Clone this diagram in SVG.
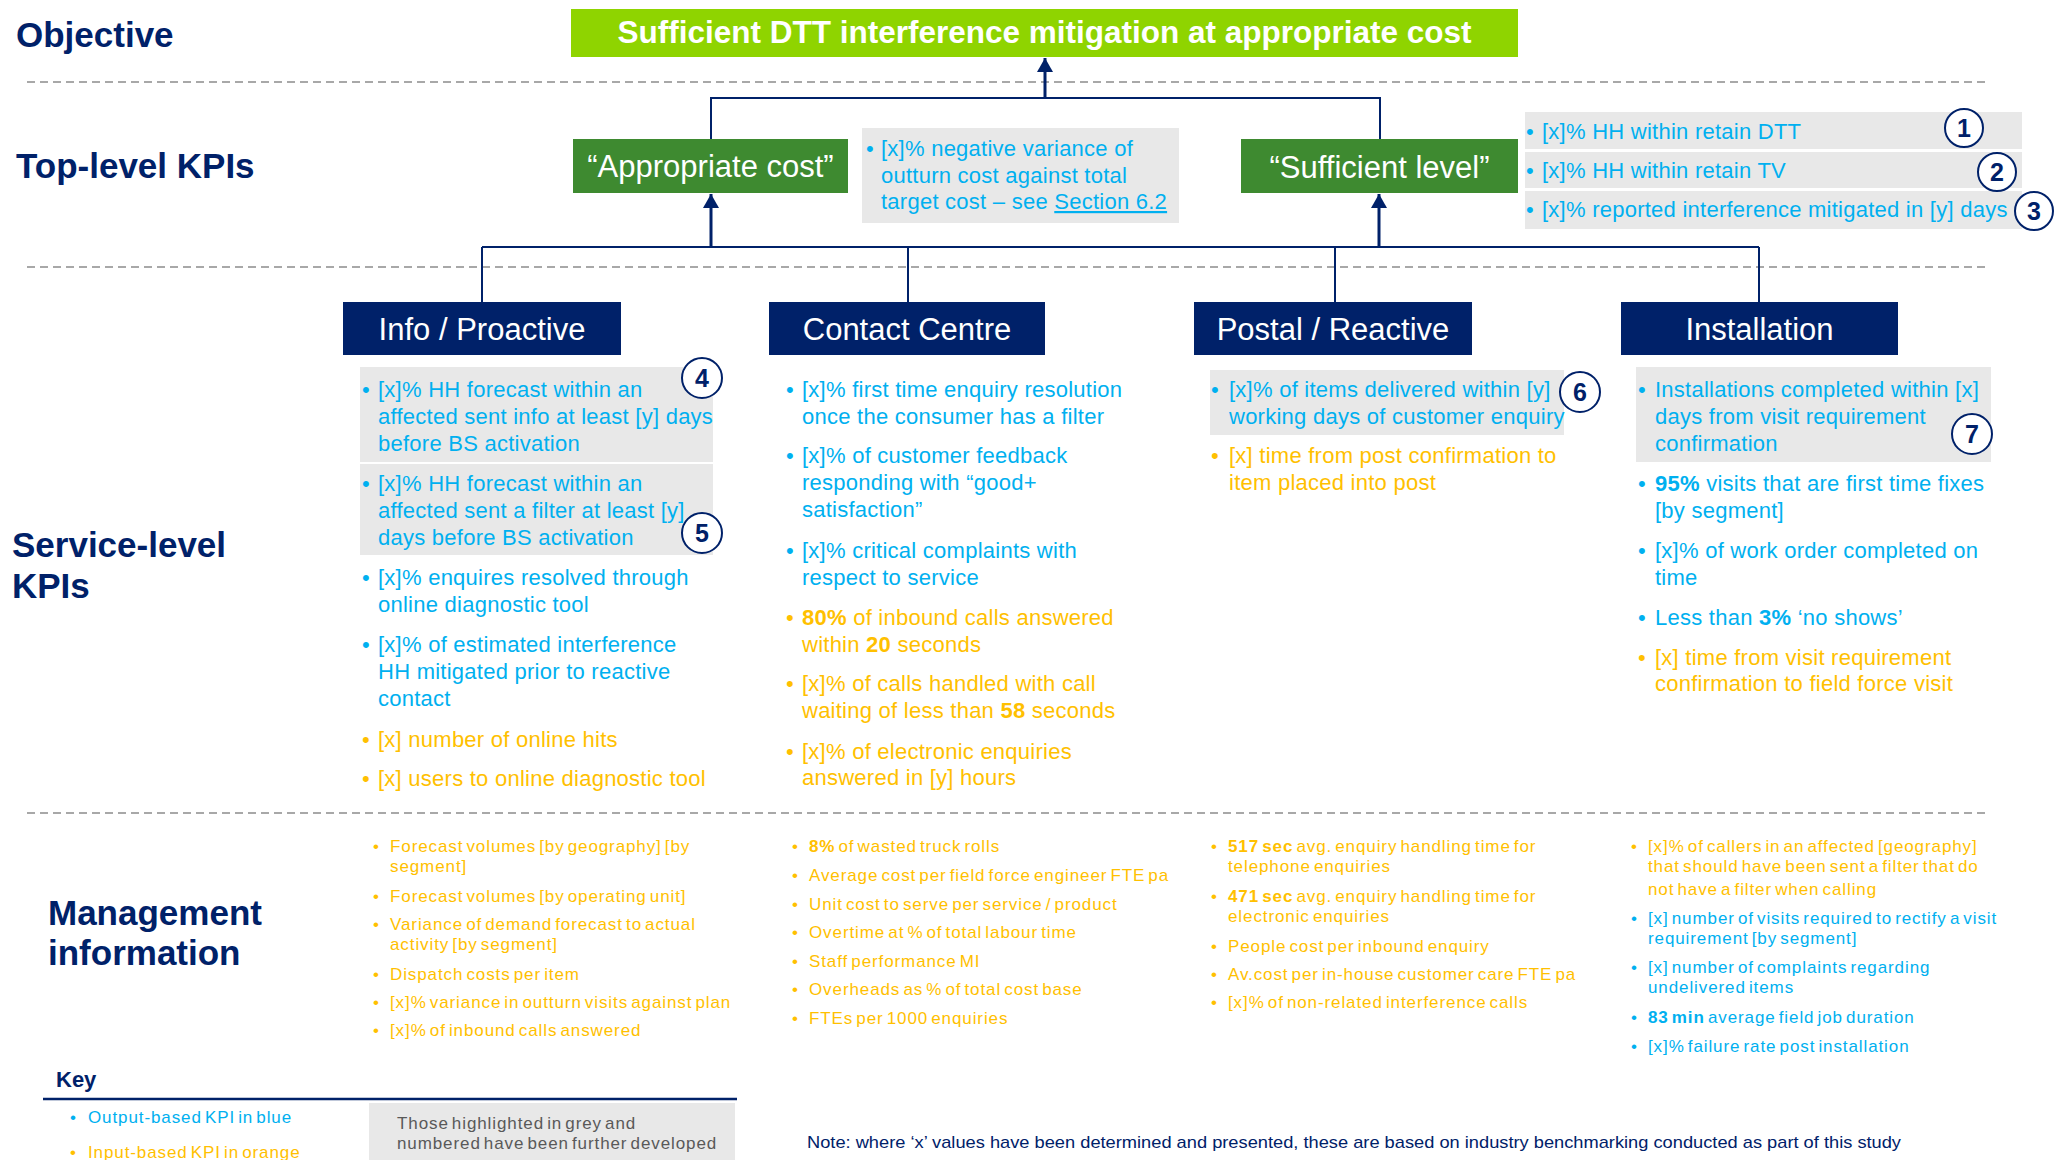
<svg xmlns="http://www.w3.org/2000/svg" width="2069" height="1160" viewBox="0 0 2069 1160">
  <style>
    text { font-family: "Liberation Sans", Arial, sans-serif; }
    .lbl { font-size: 35px; font-weight: bold; fill: #002169; }
    .hdr { font-size: 31px; fill: #ffffff; text-anchor: middle; }
    .kpi { font-size: 22px; letter-spacing: 0.25px; }
    .mi { font-size: 17px; letter-spacing: 0.9px; word-spacing: -2.5px; }
    .blue { fill: #00B0F0; }
    .orange { fill: #FFC000; }
    .b { font-weight: bold; }
    .num { font-size: 25px; font-weight: bold; fill: #002169; text-anchor: middle; }
    .navybox { fill: #002169; }
    .greenbox { fill: #3E8A30; }
    .grey { fill: #E8E8E8; }
    .badge { fill: #ffffff; stroke: #002169; stroke-width: 2; }
    .sep { stroke: #8C8C8C; stroke-width: 1.6; stroke-dasharray: 8 5; fill: none; }
    .conn { stroke: #002169; stroke-width: 2; fill: none; }
    .arrow { stroke: #002169; stroke-width: 3; fill: none; marker-end: url(#head); }
  </style>
  <defs>
    <marker id="head" markerUnits="userSpaceOnUse" markerWidth="24" markerHeight="16" refX="14" refY="8" orient="auto">
      <path d="M0,0 L14,8 L0,16 Z" fill="#002169"/>
    </marker>
  </defs>

  <rect x="0" y="0" width="2069" height="1160" fill="#ffffff"/>

  <!-- row separators -->
  <g id="separators">
    <line class="sep" x1="27" y1="82" x2="1990" y2="82"/>
    <line class="sep" x1="27" y1="267" x2="1990" y2="267"/>
    <line class="sep" x1="27" y1="813" x2="1990" y2="813"/>
  </g>

  <!-- row labels -->
  <g id="row-labels">
    <text class="lbl" x="16" y="47">Objective</text>
    <text class="lbl" x="16" y="178">Top-level KPIs</text>
    <text class="lbl" x="12" y="557">Service-level</text>
    <text class="lbl" x="12" y="598">KPIs</text>
    <text class="lbl" x="48" y="925">Management</text>
    <text class="lbl" x="48" y="965">information</text>
  </g>

  <!-- connectors -->
  <g id="connectors">
    <polyline class="conn" points="711,139 711,98 1380,98 1380,139"/>
    <line class="arrow" x1="1045" y1="98" x2="1045" y2="58"/>
    <line class="conn" x1="482" y1="247" x2="1759" y2="247"/>
    <line class="arrow" x1="711" y1="247" x2="711" y2="194"/>
    <line class="arrow" x1="1379" y1="247" x2="1379" y2="194"/>
    <line class="conn" x1="482" y1="247" x2="482" y2="302"/>
    <line class="conn" x1="908" y1="247" x2="908" y2="302"/>
    <line class="conn" x1="1335" y1="247" x2="1335" y2="302"/>
    <line class="conn" x1="1759" y1="247" x2="1759" y2="302"/>
  </g>

  <!-- objective -->
  <g id="objective">
    <rect x="571" y="9" width="947" height="48" fill="#8FD400"/>
    <text x="1044.5" y="43" font-size="31.5" font-weight="bold" fill="#ffffff" text-anchor="middle">Sufficient DTT interference mitigation at appropriate cost</text>
  </g>

  <!-- top-level KPI: appropriate cost -->
  <g id="appropriate-cost">
    <rect class="greenbox" x="573" y="139" width="275" height="54"/>
    <text class="hdr" x="710.5" y="177">“Appropriate cost”</text>
  </g>
  <g id="appropriate-cost-kpi">
    <rect class="grey" x="862" y="128" width="317" height="95"/>
    <text class="kpi blue" x="866" y="156">•</text>
    <text class="kpi blue">
      <tspan x="881" y="156">[x]% negative variance of</tspan>
      <tspan x="881" y="183">outturn cost against total</tspan>
      <tspan x="881" y="209">target cost – see <tspan text-decoration="underline">Section 6.2</tspan></tspan>
    </text>
  </g>

  <!-- top-level KPI: sufficient level -->
  <g id="sufficient-level">
    <rect class="greenbox" x="1241" y="139" width="277" height="54"/>
    <text class="hdr" x="1379.5" y="178">“Sufficient level”</text>
  </g>
  <g id="sufficient-level-kpis">
    <rect class="grey" x="1525" y="112" width="497" height="37"/>
    <rect class="grey" x="1525" y="152" width="497" height="36"/>
    <rect class="grey" x="1525" y="191" width="497" height="38"/>
    <text class="kpi blue" x="1526" y="139">•</text>
    <text class="kpi blue" x="1542" y="139">[x]% HH within  retain  DTT</text>
    <text class="kpi blue" x="1526" y="178">•</text>
    <text class="kpi blue" x="1542" y="178">[x]% HH within  retain  TV</text>
    <text class="kpi blue" x="1526" y="217">•</text>
    <text class="kpi blue" x="1542" y="217">[x]% reported interference mitigated in [y] days</text>
    <circle class="badge" cx="1964" cy="128" r="19"/>
    <text class="num" x="1964" y="137">1</text>
    <circle class="badge" cx="1997" cy="172" r="19"/>
    <text class="num" x="1997" y="181">2</text>
    <circle class="badge" cx="2034" cy="211" r="19"/>
    <text class="num" x="2034" y="220">3</text>
  </g>

  <!-- service-level: info / proactive -->
  <g id="info-proactive">
    <rect class="navybox" x="343" y="302" width="278" height="53"/>
    <text class="hdr" x="482" y="340">Info / Proactive</text>
    <rect class="grey" x="360" y="367" width="353" height="95"/>
    <rect class="grey" x="360" y="464" width="353" height="91"/>
    <text class="kpi blue" x="362" y="397">•</text>
    <text class="kpi blue">
      <tspan x="378" y="397">[x]% HH forecast within an</tspan>
      <tspan x="378" y="424">affected sent info at least [y] days</tspan>
      <tspan x="378" y="451">before BS activation</tspan>
    </text>
    <circle class="badge" cx="702" cy="378" r="20"/>
    <text class="num" x="702" y="387">4</text>
    <text class="kpi blue" x="362" y="491">•</text>
    <text class="kpi blue">
      <tspan x="378" y="491">[x]% HH forecast within an</tspan>
      <tspan x="378" y="518">affected  sent a filter at least [y]</tspan>
      <tspan x="378" y="545">days before BS activation</tspan>
    </text>
    <circle class="badge" cx="702" cy="533" r="20"/>
    <text class="num" x="702" y="542">5</text>
    <text class="kpi blue" x="362" y="585">•</text>
    <text class="kpi blue">
      <tspan x="378" y="585">[x]% enquires resolved through</tspan>
      <tspan x="378" y="612">online diagnostic tool</tspan>
    </text>
    <text class="kpi blue" x="362" y="652">•</text>
    <text class="kpi blue">
      <tspan x="378" y="652">[x]% of estimated interference</tspan>
      <tspan x="378" y="679">HH mitigated prior to reactive</tspan>
      <tspan x="378" y="706">contact</tspan>
    </text>
    <text class="kpi orange" x="362" y="747">•</text>
    <text class="kpi orange" x="378" y="747">[x] number of online hits</text>
    <text class="kpi orange" x="362" y="786">•</text>
    <text class="kpi orange" x="378" y="786">[x] users to online diagnostic tool</text>
  </g>

  <!-- service-level: contact centre -->
  <g id="contact-centre">
    <rect class="navybox" x="769" y="302" width="276" height="53"/>
    <text class="hdr" x="907" y="340">Contact Centre</text>
    <text class="kpi blue" x="786" y="397">•</text>
    <text class="kpi blue">
      <tspan x="802" y="397">[x]% first time enquiry resolution</tspan>
      <tspan x="802" y="424">once the consumer has a filter</tspan>
    </text>
    <text class="kpi blue" x="786" y="463">•</text>
    <text class="kpi blue">
      <tspan x="802" y="463">[x]% of customer feedback</tspan>
      <tspan x="802" y="490">responding with “good+</tspan>
      <tspan x="802" y="517">satisfaction”</tspan>
    </text>
    <text class="kpi blue" x="786" y="558">•</text>
    <text class="kpi blue">
      <tspan x="802" y="558">[x]% critical complaints with</tspan>
      <tspan x="802" y="585">respect to service</tspan>
    </text>
    <text class="kpi orange" x="786" y="625">•</text>
    <text class="kpi orange">
      <tspan x="802" y="625"><tspan class="b">80%</tspan> of inbound calls answered</tspan>
      <tspan x="802" y="652">within <tspan class="b">20</tspan> seconds</tspan>
    </text>
    <text class="kpi orange" x="786" y="691">•</text>
    <text class="kpi orange">
      <tspan x="802" y="691">[x]% of calls handled with call</tspan>
      <tspan x="802" y="718">waiting of less than <tspan class="b">58</tspan> seconds</tspan>
    </text>
    <text class="kpi orange" x="786" y="759">•</text>
    <text class="kpi orange">
      <tspan x="802" y="759">[x]% of electronic enquiries</tspan>
      <tspan x="802" y="785">answered in [y] hours</tspan>
    </text>
  </g>

  <!-- service-level: postal / reactive -->
  <g id="postal-reactive">
    <rect class="navybox" x="1194" y="302" width="278" height="53"/>
    <text class="hdr" x="1333" y="340">Postal / Reactive</text>
    <rect class="grey" x="1210" y="370" width="354" height="65"/>
    <text class="kpi blue" x="1211" y="397">•</text>
    <text class="kpi blue">
      <tspan x="1229" y="397">[x]% of items delivered within [y]</tspan>
      <tspan x="1229" y="424">working days of customer enquiry</tspan>
    </text>
    <circle class="badge" cx="1580" cy="392" r="20"/>
    <text class="num" x="1580" y="401">6</text>
    <text class="kpi orange" x="1211" y="463">•</text>
    <text class="kpi orange">
      <tspan x="1229" y="463">[x] time from post confirmation to</tspan>
      <tspan x="1229" y="490">item placed into post</tspan>
    </text>
  </g>

  <!-- service-level: installation -->
  <g id="installation">
    <rect class="navybox" x="1621" y="302" width="277" height="53"/>
    <text class="hdr" x="1759.5" y="340">Installation</text>
    <rect class="grey" x="1636" y="367" width="355" height="95"/>
    <text class="kpi blue" x="1638" y="397">•</text>
    <text class="kpi blue">
      <tspan x="1655" y="397">Installations completed within [x]</tspan>
      <tspan x="1655" y="424">days from visit requirement</tspan>
      <tspan x="1655" y="451">confirmation</tspan>
    </text>
    <circle class="badge" cx="1972" cy="434" r="20"/>
    <text class="num" x="1972" y="443">7</text>
    <text class="kpi blue" x="1638" y="491">•</text>
    <text class="kpi blue">
      <tspan x="1655" y="491"><tspan class="b">95%</tspan> visits that are first time fixes</tspan>
      <tspan x="1655" y="518">[by segment]</tspan>
    </text>
    <text class="kpi blue" x="1638" y="558">•</text>
    <text class="kpi blue">
      <tspan x="1655" y="558">[x]% of work order completed on</tspan>
      <tspan x="1655" y="585">time</tspan>
    </text>
    <text class="kpi blue" x="1638" y="625">•</text>
    <text class="kpi blue" x="1655" y="625">Less than <tspan class="b">3%</tspan> ‘no shows’</text>
    <text class="kpi orange" x="1638" y="665">•</text>
    <text class="kpi orange">
      <tspan x="1655" y="665">[x] time from visit requirement</tspan>
      <tspan x="1655" y="691">confirmation to field force visit</tspan>
    </text>
  </g>

  <!-- management information: info / proactive -->
  <g id="mi-info">
    <g class="mi orange">
      <text x="373" y="852">•</text>
      <text><tspan x="390" y="852">Forecast volumes [by geography] [by</tspan><tspan x="390" y="872">segment]</tspan></text>
      <text x="373" y="902">•</text>
      <text x="390" y="902">Forecast volumes [by operating unit]</text>
      <text x="373" y="930">•</text>
      <text><tspan x="390" y="930">Variance of demand forecast to actual</tspan><tspan x="390" y="950">activity [by segment]</tspan></text>
      <text x="373" y="980">•</text>
      <text x="390" y="980">Dispatch costs per item</text>
      <text x="373" y="1008">•</text>
      <text x="390" y="1008">[x]% variance in outturn visits against plan</text>
      <text x="373" y="1036">•</text>
      <text x="390" y="1036">[x]% of inbound calls answered</text>
    </g>
  </g>

  <!-- management information: contact centre -->
  <g id="mi-contact">
    <g class="mi orange">
      <text x="792" y="852">•</text>
      <text x="809" y="852"><tspan class="b">8%</tspan> of wasted truck rolls</text>
      <text x="792" y="881">•</text>
      <text x="809" y="881">Average cost per field force engineer FTE pa</text>
      <text x="792" y="910">•</text>
      <text x="809" y="910">Unit cost to serve per service / product</text>
      <text x="792" y="938">•</text>
      <text x="809" y="938">Overtime at % of total labour time</text>
      <text x="792" y="967">•</text>
      <text x="809" y="967">Staff performance MI</text>
      <text x="792" y="995">•</text>
      <text x="809" y="995">Overheads as % of total cost base</text>
      <text x="792" y="1024">•</text>
      <text x="809" y="1024">FTEs per 1000 enquiries</text>
    </g>
  </g>

  <!-- management information: postal / reactive -->
  <g id="mi-postal">
    <g class="mi orange">
      <text x="1211" y="852">•</text>
      <text><tspan x="1228" y="852"><tspan class="b">517 sec</tspan> avg. enquiry handling time for</tspan><tspan x="1228" y="872">telephone enquiries</tspan></text>
      <text x="1211" y="902">•</text>
      <text><tspan x="1228" y="902"><tspan class="b">471 sec</tspan> avg. enquiry handling time for</tspan><tspan x="1228" y="922">electronic  enquiries</tspan></text>
      <text x="1211" y="952">•</text>
      <text x="1228" y="952">People cost per inbound enquiry</text>
      <text x="1211" y="980">•</text>
      <text x="1228" y="980">Av.cost per in-house customer care FTE pa</text>
      <text x="1211" y="1008">•</text>
      <text x="1228" y="1008">[x]% of non-related interference calls</text>
    </g>
  </g>

  <!-- management information: installation -->
  <g id="mi-installation">
    <g class="mi">
      <text class="orange" x="1631" y="852">•</text>
      <text class="orange"><tspan x="1648" y="852">[x]% of callers in an affected [geography]</tspan><tspan x="1648" y="872">that should have been sent a filter that do</tspan><tspan x="1648" y="895">not have a filter when calling</tspan></text>
      <text class="blue" x="1631" y="924">•</text>
      <text class="blue"><tspan x="1648" y="924">[x] number of visits required to rectify a visit</tspan><tspan x="1648" y="944">requirement [by segment]</tspan></text>
      <text class="blue" x="1631" y="973">•</text>
      <text class="blue"><tspan x="1648" y="973">[x] number of complaints regarding</tspan><tspan x="1648" y="993">undelivered items</tspan></text>
      <text class="blue" x="1631" y="1023">•</text>
      <text class="blue" x="1648" y="1023"><tspan class="b">83 min</tspan> average field job duration</text>
      <text class="blue" x="1631" y="1052">•</text>
      <text class="blue" x="1648" y="1052">[x]% failure rate post installation</text>
    </g>
  </g>

  <!-- key -->
  <g id="key">
    <text x="56" y="1087" font-size="22" font-weight="bold" fill="#002169">Key</text>
    <line x1="43" y1="1099" x2="737" y2="1099" stroke="#002169" stroke-width="2.5"/>
    <g class="mi">
      <text class="blue" x="70" y="1123">•</text>
      <text class="blue" x="88" y="1123">Output-based KPI in blue</text>
      <text class="orange" x="70" y="1158">•</text>
      <text class="orange" x="88" y="1158">Input-based KPI in orange</text>
    </g>
    <rect class="grey" x="369" y="1103" width="366" height="57"/>
    <g class="mi" fill="#595959">
      <text x="397" y="1129">Those highlighted in grey and</text>
      <text x="397" y="1149">numbered have been further developed</text>
    </g>
  </g>

  <!-- footnote -->
  <text x="807" y="1148" font-size="17" fill="#002169" textLength="1094" lengthAdjust="spacingAndGlyphs">Note: where ‘x’ values have been determined and presented, these are based on industry benchmarking conducted as part of this study</text>
</svg>
